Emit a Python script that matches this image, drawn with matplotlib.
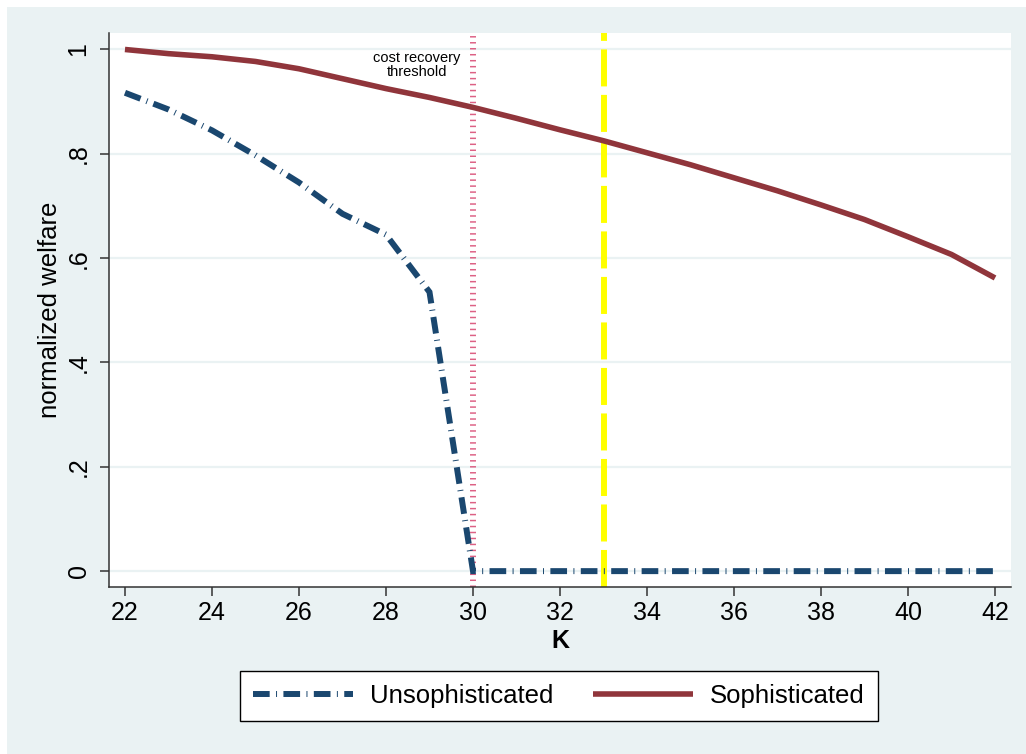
import numpy as np
import matplotlib
matplotlib.use("Agg")
from matplotlib import pyplot as plt
from matplotlib.patches import Rectangle

plt.rcParams['font.family'] = ['Liberation Sans', 'DejaVu Sans']

# values
K = [22, 23, 24, 25, 26, 27, 28, 29, 30, 31, 32, 33, 34, 35, 36, 37, 38, 39, 40, 41, 42]
sophisticated = [1.0, 0.992, 0.986, 0.977, 0.963, 0.944, 0.925, 0.908, 0.889, 0.868, 0.846,
                 0.825, 0.802, 0.779, 0.754, 0.729, 0.702, 0.674, 0.641, 0.607, 0.562]
unsophisticated = [0.917, 0.885, 0.845, 0.797, 0.745, 0.685, 0.645, 0.535, 0.0, 0.0, 0.0,
                   0.0, 0.0, 0.0, 0.0, 0.0, 0.0, 0.0, 0.0, 0.0, 0.0]
threshold_k = 30
policy_k = 33
yticks = [0, 0.2, 0.4, 0.6, 0.8, 1.0]
ytick_labels = ['0', '.2', '.4', '.6', '.8', '1']
xticks = [22, 24, 26, 28, 30, 32, 34, 36, 38, 40, 42]

bg = '#EAF2F3'
navy = '#1A476F'
maroon = '#90353B'

fig = plt.figure(figsize=(10.26, 7.54), dpi=100)
fig.patch.set_facecolor('white')
fig.patches.append(Rectangle((7 / 1026, 0), 1, 747 / 754, transform=fig.transFigure,
                             facecolor=bg, edgecolor='none', zorder=-10))

ax = fig.add_axes([109.3 / 1026, 166.7 / 754, 901.4 / 1026, 554 / 754])
ax.set_facecolor('white')

# vertical reference lines (beneath the curves)
ax.axvline(threshold_k, color='#DD6185', lw=4.3, dashes=(0.25, 0.75),
           dash_capstyle='butt', zorder=1)
ax.axvline(policy_k, color='#FFFF00', lw=4.3, dashes=(6.2, 1.42),
           dash_capstyle='butt', zorder=1)

# long dash, gap, thin sliver, gap (stata dash-dot look)
lw_u = 4.3
dd = [12 / lw_u, 4.6 / lw_u, 0.7 / lw_u, 4.6 / lw_u]
u1, = ax.plot(K, unsophisticated, color=navy, lw=lw_u, dashes=dd,
              dash_capstyle='butt', dash_joinstyle='miter', zorder=3,
              label='Unsophisticated')
s1, = ax.plot(K, sophisticated, color=maroon, lw=4.0, zorder=4,
              solid_capstyle='butt', label='Sophisticated')

ax.text(28.71, 0.971, 'cost recovery\nthreshold', ha='center', va='center',
        fontsize=10.5, linespacing=1.0, zorder=5)

ax.set_xlim(21.64, 42.36)
ax.set_ylim(-0.031, 1.031)
ax.set_xticks(xticks)
ax.set_yticks(yticks)
ax.set_yticklabels(ytick_labels, rotation=90, va='center')
ax.grid(axis='y', color=bg, lw=1.6, zorder=0)
ax.set_axisbelow(True)

for side in ['top', 'right']:
    ax.spines[side].set_visible(False)
for side in ['left', 'bottom']:
    ax.spines[side].set_color('#333333')
    ax.spines[side].set_linewidth(1.1)
ax.tick_params(axis='both', which='major', direction='out', length=6.5, width=1.1,
               color='#333333', labelsize=18)
ax.tick_params(axis='x', pad=3.5)
ax.tick_params(axis='y', pad=7)

fig.text(50 / 1026, (754 - 310) / 754, 'normalized welfare', rotation=90,
         ha='center', va='center', fontsize=18.5)
fig.text(560 / 1026, (754 - 641) / 754, 'K', ha='center', va='center',
         fontsize=18, fontweight='bold')

leg = fig.legend([u1, s1], ['Unsophisticated', 'Sophisticated'],
                 loc='center', bbox_to_anchor=(559 / 1026, (754 - 696) / 754),
                 ncol=2, fontsize=18.5, frameon=True, fancybox=False,
                 handlelength=3.9, handletextpad=0.65, columnspacing=1.55,
                 borderpad=0.5, borderaxespad=0)
leg.get_frame().set_edgecolor('black')
leg.get_frame().set_linewidth(1.0)
leg.get_frame().set_facecolor('white')
leg.get_frame().set_alpha(1)

fig.savefig('out.png', dpi=100, facecolor=fig.get_facecolor())
